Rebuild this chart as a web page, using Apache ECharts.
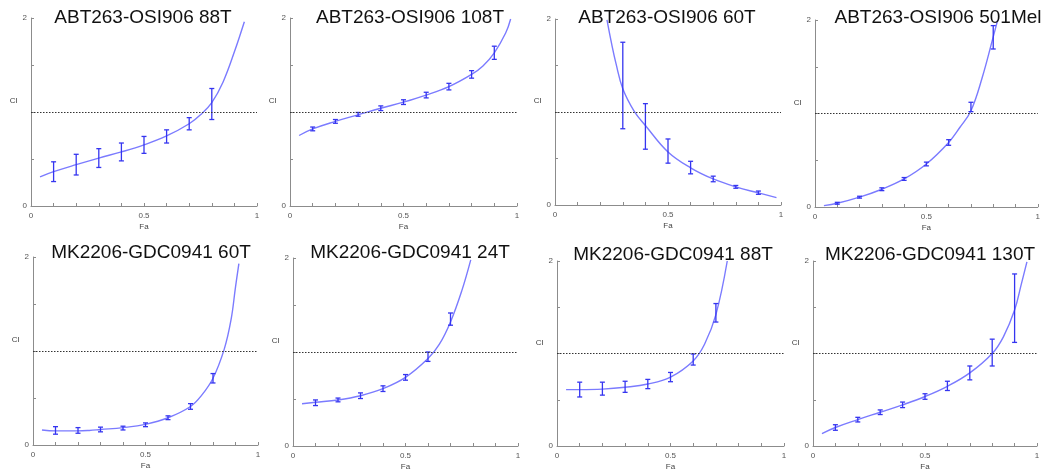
<!DOCTYPE html>
<html>
<head>
<meta charset="utf-8">
<script src="https://cdn.jsdelivr.net/npm/echarts@6/dist/echarts.min.js"></script>
<style>
html,body{margin:0;padding:0;background:#fff;}
#chart{width:1043px;height:472px;}
</style>
</head>
<body>
<div id="chart"></div>
<script>
// ---------- DATA ----------
const titles = ["ABT263-OSI906 88T","ABT263-OSI906 108T","ABT263-OSI906 60T","ABT263-OSI906 501Mel",
                "MK2206-GDC0941 60T","MK2206-GDC0941 24T","MK2206-GDC0941 88T","MK2206-GDC0941 130T"];
const xTickLabels = ["0","0.5","1"];
const yTickLabels = ["0","2"];

// Panel 1: ABT263-OSI906 88T
const p1_curveFa = [0.04,0.1,0.2,0.3,0.4,0.5,0.6,0.7,0.75,0.8,0.85,0.9,0.944];
const p1_curveCI = [0.31,0.365,0.44,0.51,0.575,0.65,0.745,0.875,0.97,1.1,1.32,1.64,1.96];
const p1_fa = [0.1,0.2,0.3,0.4,0.5,0.6,0.7,0.8];
const p1_lo = [0.26,0.33,0.41,0.48,0.56,0.67,0.81,0.92];
const p1_hi = [0.47,0.55,0.61,0.67,0.74,0.81,0.94,1.25];

// Panel 2: ABT263-OSI906 108T
const p2_curveFa = [0.04,0.1,0.2,0.3,0.4,0.5,0.6,0.7,0.8,0.85,0.9,0.95,0.972];
const p2_curveCI = [0.75,0.82,0.90,0.97,1.04,1.105,1.18,1.27,1.40,1.49,1.63,1.84,1.99];
const p2_fa = [0.1,0.2,0.3,0.4,0.5,0.6,0.7,0.8,0.9];
const p2_lo = [0.80,0.88,0.955,1.015,1.08,1.15,1.235,1.36,1.56];
const p2_hi = [0.84,0.92,0.995,1.065,1.13,1.21,1.305,1.44,1.70];

// Panel 3: ABT263-OSI906 60T
const p3_curveFa = [0.23,0.25,0.27,0.3,0.35,0.4,0.5,0.6,0.7,0.8,0.9,0.98];
const p3_curveCI = [1.99,1.74,1.52,1.25,1.01,0.855,0.57,0.40,0.28,0.195,0.13,0.08];
const p3_fa = [0.3,0.4,0.5,0.6,0.7,0.8,0.9];
const p3_lo = [0.82,0.60,0.45,0.335,0.25,0.18,0.115];
const p3_hi = [1.75,1.09,0.71,0.47,0.31,0.21,0.15];

// Panel 4: ABT263-OSI906 501Mel
const p4_curveFa = [0.04,0.1,0.2,0.3,0.4,0.5,0.6,0.65,0.7,0.75,0.8,0.82];
const p4_curveCI = [0.015,0.04,0.105,0.19,0.30,0.46,0.69,0.85,1.03,1.38,1.82,2.0];
const p4_fa = [0.1,0.2,0.3,0.4,0.5,0.6,0.7,0.8];
const p4_lo = [0.03,0.095,0.175,0.285,0.44,0.66,1.02,1.69];
const p4_hi = [0.05,0.115,0.205,0.315,0.48,0.72,1.12,1.94];

// Panel 5: MK2206-GDC0941 60T
const p5_curveFa = [0.04,0.1,0.2,0.25,0.3,0.4,0.5,0.6,0.7,0.75,0.8,0.85,0.88,0.9,0.915];
const p5_curveCI = [0.16,0.15,0.15,0.155,0.165,0.185,0.22,0.29,0.41,0.53,0.71,1.02,1.33,1.68,1.93];
const p5_fa = [0.1,0.2,0.3,0.4,0.5,0.6,0.7,0.8];
const p5_lo = [0.115,0.125,0.14,0.16,0.195,0.27,0.38,0.66];
const p5_hi = [0.195,0.185,0.19,0.20,0.235,0.31,0.44,0.76];

// Panel 6: MK2206-GDC0941 24T
const p6_curveFa = [0.04,0.1,0.2,0.3,0.4,0.5,0.6,0.65,0.7,0.75,0.79];
const p6_curveCI = [0.45,0.465,0.49,0.535,0.61,0.73,0.93,1.08,1.32,1.65,1.98];
const p6_fa = [0.1,0.2,0.3,0.4,0.5,0.6,0.7];
const p6_lo = [0.43,0.47,0.505,0.58,0.70,0.90,1.285];
const p6_hi = [0.49,0.51,0.565,0.64,0.76,1.00,1.415];

// Panel 7: MK2206-GDC0941 88T
const p7_curveFa = [0.04,0.1,0.2,0.3,0.4,0.5,0.6,0.65,0.7,0.75];
const p7_curveCI = [0.61,0.61,0.615,0.635,0.67,0.745,0.92,1.1,1.42,2.0];
const p7_fa = [0.1,0.2,0.3,0.4,0.5,0.6,0.7];
const p7_lo = [0.53,0.55,0.58,0.62,0.695,0.875,1.34];
const p7_hi = [0.69,0.69,0.70,0.72,0.795,0.995,1.54];

// Panel 8: MK2206-GDC0941 130T
const p8_curveFa = [0.04,0.1,0.2,0.3,0.4,0.5,0.6,0.7,0.8,0.85,0.9,0.93,0.955];
const p8_curveCI = [0.135,0.2,0.285,0.365,0.445,0.535,0.645,0.79,1.0,1.18,1.47,1.75,1.99];
const p8_fa = [0.1,0.2,0.3,0.4,0.5,0.6,0.7,0.8,0.9];
const p8_lo = [0.17,0.26,0.34,0.415,0.505,0.60,0.715,0.865,1.12];
const p8_hi = [0.23,0.31,0.39,0.475,0.565,0.70,0.865,1.155,1.86];

const panels = [
  [p1_curveFa,p1_curveCI,p1_fa,p1_lo,p1_hi],
  [p2_curveFa,p2_curveCI,p2_fa,p2_lo,p2_hi],
  [p3_curveFa,p3_curveCI,p3_fa,p3_lo,p3_hi],
  [p4_curveFa,p4_curveCI,p4_fa,p4_lo,p4_hi],
  [p5_curveFa,p5_curveCI,p5_fa,p5_lo,p5_hi],
  [p6_curveFa,p6_curveCI,p6_fa,p6_lo,p6_hi],
  [p7_curveFa,p7_curveCI,p7_fa,p7_lo,p7_hi],
  [p8_curveFa,p8_curveCI,p8_fa,p8_lo,p8_hi]
];

// ---------- LAYOUT ----------
// [left, top, width, height, titleCenterX, titleTop]
const layout = [
  [31, 18, 226, 188, 138, 3],
  [290,18, 227, 188, 405, 3],
  [555,19, 226, 186, 662, 3],
  [815,20, 225, 187, 933, 3],
  [33, 257,225, 188, 146, 238],
  [293,258,225, 189, 405, 238],
  [557,261,227, 187, 668, 240],
  [813,261,224, 186, 925, 240]
];

const axisGray = '#8c8c8c';
const curveColor = '#7b7bff';
const barColor = '#3535f0';
const FONT = 'Liberation Sans, Arial, Helvetica, sans-serif';

const option = {
  animation:false,
  backgroundColor:'#fff',
  title:[], grid:[], xAxis:[], yAxis:[], series:[]
};

panels.forEach((p,i)=>{
  const L = layout[i];
  option.title.push({
    text: titles[i], left: L[4], top: L[5], textAlign:'center',
    textStyle:{fontFamily:FONT,fontSize:19,fontWeight:'normal',color:'#111'}
  });
  option.grid.push({left:L[0],top:L[1],width:L[2],height:L[3],containLabel:false});
  option.xAxis.push({
    gridIndex:i, type:'value', min:0, max:1, interval:0.1,
    name:'Fa', nameLocation:'middle', nameGap:17,
    nameTextStyle:{fontFamily:FONT,fontSize:8,color:'#444'},
    axisLine:{show:true,onZero:false,lineStyle:{color:axisGray,width:1}},
    axisTick:{show:true,inside:true,length:3,lineStyle:{color:axisGray}},
    splitLine:{show:false},
    axisLabel:{fontFamily:FONT,fontSize:8,color:'#555',margin:6,showMinLabel:true,showMaxLabel:true,
      formatter:v=>{
        const r=Math.round(v*10)/10;
        if(r===0) return xTickLabels[0];
        if(r===0.5) return xTickLabels[1];
        if(r===1) return xTickLabels[2];
        return '';
      }}
  });
  option.yAxis.push({
    gridIndex:i, type:'value', min:0, max:2, interval:0.5,
    name:'CI', nameLocation:'middle', nameGap:12, nameRotate:0,
    nameTextStyle:{fontFamily:FONT,fontSize:8,color:'#444',verticalAlign:'bottom',padding:[0,0,7,0]},
    axisLine:{show:true,onZero:false,lineStyle:{color:axisGray,width:1}},
    axisTick:{show:true,inside:true,length:3,lineStyle:{color:axisGray}},
    splitLine:{show:false},
    axisLabel:{fontFamily:FONT,fontSize:8,color:'#555',margin:4,
      formatter:v=>{
        if(v===0) return yTickLabels[0];
        if(v===2) return yTickLabels[1];
        return '';
      }}
  });
  const curve = p[0].map((x,k)=>[x,p[1][k]]);
  option.series.push({
    type:'line', xAxisIndex:i, yAxisIndex:i, data:curve, smooth:0.4,
    showSymbol:false, symbol:'none', clip:true,
    lineStyle:{color:curveColor,width:1.4}, z:3,
    markLine:{
      silent:true, symbol:['none','none'], label:{show:false},
      lineStyle:{color:'#333',type:[1.5,1.5],width:1},
      data:[{yAxis:1}], animation:false
    }
  });
  const bars = p[2].map((x,k)=>[x,p[3][k],p[4][k]]);
  option.series.push({
    type:'custom', xAxisIndex:i, yAxisIndex:i, data:bars, z:4, clip:true,
    renderItem:(params,api)=>{
      const x=api.value(0), lo=api.value(1), hi=api.value(2);
      const a=api.coord([x,lo]), b=api.coord([x,hi]);
      const w=2.5;
      const st={stroke:barColor,lineWidth:1.3};
      return {type:'group',children:[
        {type:'line',shape:{x1:a[0],y1:a[1],x2:b[0],y2:b[1]},style:st},
        {type:'line',shape:{x1:a[0]-w,y1:a[1],x2:a[0]+w,y2:a[1]},style:st},
        {type:'line',shape:{x1:b[0]-w,y1:b[1],x2:b[0]+w,y2:b[1]},style:st}
      ]};
    }
  });
});

const chart = echarts.init(document.getElementById('chart'),null,{renderer:'canvas'});
chart.setOption(option);
</script>
</body>
</html>
